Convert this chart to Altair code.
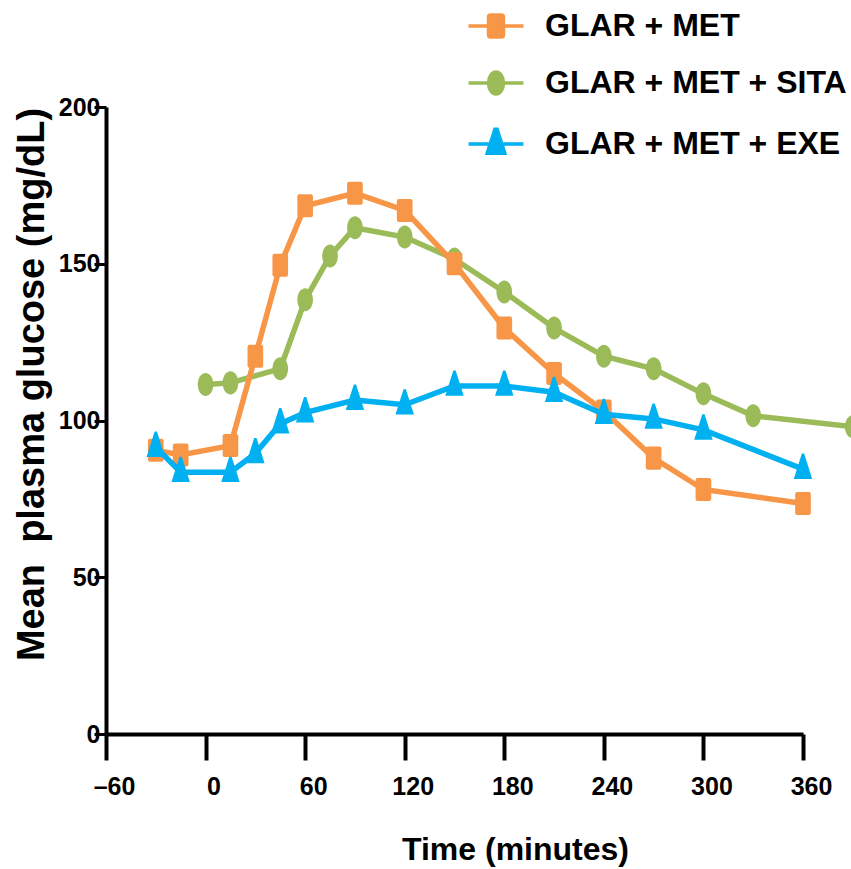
import altair as alt
import pandas as pd

SERIES = ["GLAR + MET", "GLAR + MET + SITA", "GLAR + MET + EXE"]
COLORS = ["#F79646", "#9BBB59", "#00B0F0"]

TIMES_MET = [-30, -15, 15, 30, 45, 60, 90, 120, 150, 180, 210, 240, 270, 300, 360]
GLUC_MET = [90.5, 89.0, 92.0, 120.5, 149.5, 168.5, 172.5, 167.0, 150.0, 129.5, 115.0, 103.0, 88.0, 78.0, 73.5]

TIMES_SITA = [0, 15, 45, 60, 75, 90, 120, 150, 180, 210, 240, 270, 300, 330, 390]
GLUC_SITA = [111.5, 112.0, 116.5, 138.5, 152.5, 161.5, 158.5, 151.5, 141.0, 129.5, 120.5, 116.5, 108.5, 101.5, 98.0]

TIMES_EXE = [-30, -15, 15, 30, 45, 60, 90, 120, 150, 180, 210, 240, 270, 300, 360]
GLUC_EXE = [91.5, 83.5, 83.5, 89.5, 99.0, 102.5, 106.5, 105.0, 111.0, 111.0, 109.0, 102.0, 100.5, 97.0, 84.5]

X_TICKS = [-60, 0, 60, 120, 180, 240, 300, 360]
Y_TICKS = [0, 50, 100, 150, 200]

# marker paths (unit box scaled by sqrt(size)/2)
RECT = "M-0.5,-1H0.5Q0.68,-1 0.68,-0.8V0.8Q0.68,1 0.5,1H-0.5Q-0.68,1 -0.68,0.8V-0.8Q-0.68,-1 -0.5,-1Z"
ELLI = "M-0.68,0A0.68,1,0,1,1,0.68,0A0.68,1,0,1,1,-0.68,0Z"
TRI = "M-0.1,-1.35L0.1,-1.35L0.8,0.85H-0.8Z"
SHAPES = [RECT, ELLI, TRI]
LINE_SEG = "M-2.5,0H2.5"
LEGEND_SHAPES = [LINE_SEG + s for s in SHAPES]

FONT = "Liberation Sans"
MARK_SIZE = 530

frames = []
for name, ts, gs in zip(SERIES, [TIMES_MET, TIMES_SITA, TIMES_EXE], [GLUC_MET, GLUC_SITA, GLUC_EXE]):
    frames.append(pd.DataFrame({"series": name, "time": ts, "glucose": gs}))
df = pd.concat(frames, ignore_index=True)

x_enc = alt.X(
    "time:Q",
    scale=alt.Scale(domain=[-60, 360], nice=False, zero=False),
    axis=alt.Axis(
        values=X_TICKS,
        title="Time (minutes)",
        labelExpr="datum.value < 0 ? '\u2013' + (-datum.value) : '' + datum.value",
        labelOffset=8,
        labelFlush=False,
    ),
)
y_enc = alt.Y(
    "glucose:Q",
    scale=alt.Scale(domain=[0, 200], nice=False),
    axis=alt.Axis(values=Y_TICKS, title="Mean\u00a0 plasma glucose (mg/dL)", labelFlush=False),
)

layers = []
draw_order = [1, 0, 2]  # green, orange, blue
for i in draw_order:
    name = SERIES[i]
    base = alt.Chart(df).transform_filter(alt.datum.series == name)
    line = base.mark_line(color=COLORS[i], strokeWidth=5.5).encode(x=x_enc, y=y_enc)
    pts = base.mark_point(
        filled=True, opacity=1, size=MARK_SIZE, shape=SHAPES[i], color=COLORS[i], strokeWidth=0
    ).encode(x=x_enc, y=y_enc)
    layers += [line, pts]

legend_df = pd.DataFrame({"series": SERIES, "time": [0] * 3, "glucose": [0] * 3})
leg = alt.Legend(
    title=None,
    orient="none",
    legendX=374,
    legendY=-97,
    padding=0,
    labelFont=FONT,
    labelFontSize=32,
    labelFontWeight="bold",
    labelColor="black",
    labelLimit=0,
    symbolSize=484,
    symbolStrokeWidth=3.5,
    rowPadding=20,
    labelOffset=33,
)
legend_layer = (
    alt.Chart(legend_df)
    .transform_filter("false")
    .mark_point(filled=True, opacity=1, size=484, strokeWidth=3.5)
    .encode(
        x=x_enc,
        y=y_enc,
        color=alt.Color("series:N", scale=alt.Scale(domain=SERIES, range=COLORS), legend=leg, sort=SERIES),
        stroke=alt.Stroke("series:N", scale=alt.Scale(domain=SERIES, range=COLORS), legend=leg, sort=SERIES),
        shape=alt.Shape("series:N", scale=alt.Scale(domain=SERIES, range=LEGEND_SHAPES), legend=leg, sort=SERIES),
    )
)

chart = (
    alt.layer(*layers, legend_layer)
    .properties(
        width=697,
        height=627,
        padding={"left": 106, "top": 107, "right": 48, "bottom": 135},
        autosize=alt.AutoSizeParams(type="none"),
        background="white",
    )
    .configure_view(stroke=None)
    .configure_axis(
        grid=False,
        domainColor="black",
        tickColor="black",
        labelColor="black",
        titleColor="black",
        labelFont=FONT,
        titleFont=FONT,
        labelFontWeight="bold",
        titleFontWeight="bold",
        domainWidth=4,
    )
    .configure_axisX(
        tickSize=26,
        tickWidth=4,
        labelFontSize=25,
        labelPadding=14,
        titleFontSize=32,
        titleX=409,
        titleY=125,
        titleBaseline="alphabetic",
        titleAlign="center",
    )
    .configure_axisY(
        tickSize=12,
        tickWidth=3,
        labelFontSize=25,
        labelPadding=-6,
        titleFontSize=38,
        titleAngle=270,
        titleX=-63,
        titleY=277,
        titleBaseline="alphabetic",
        titleAlign="center",
    )
)

chart.save("out.html", embed_options={"renderer": "svg", "actions": False})
